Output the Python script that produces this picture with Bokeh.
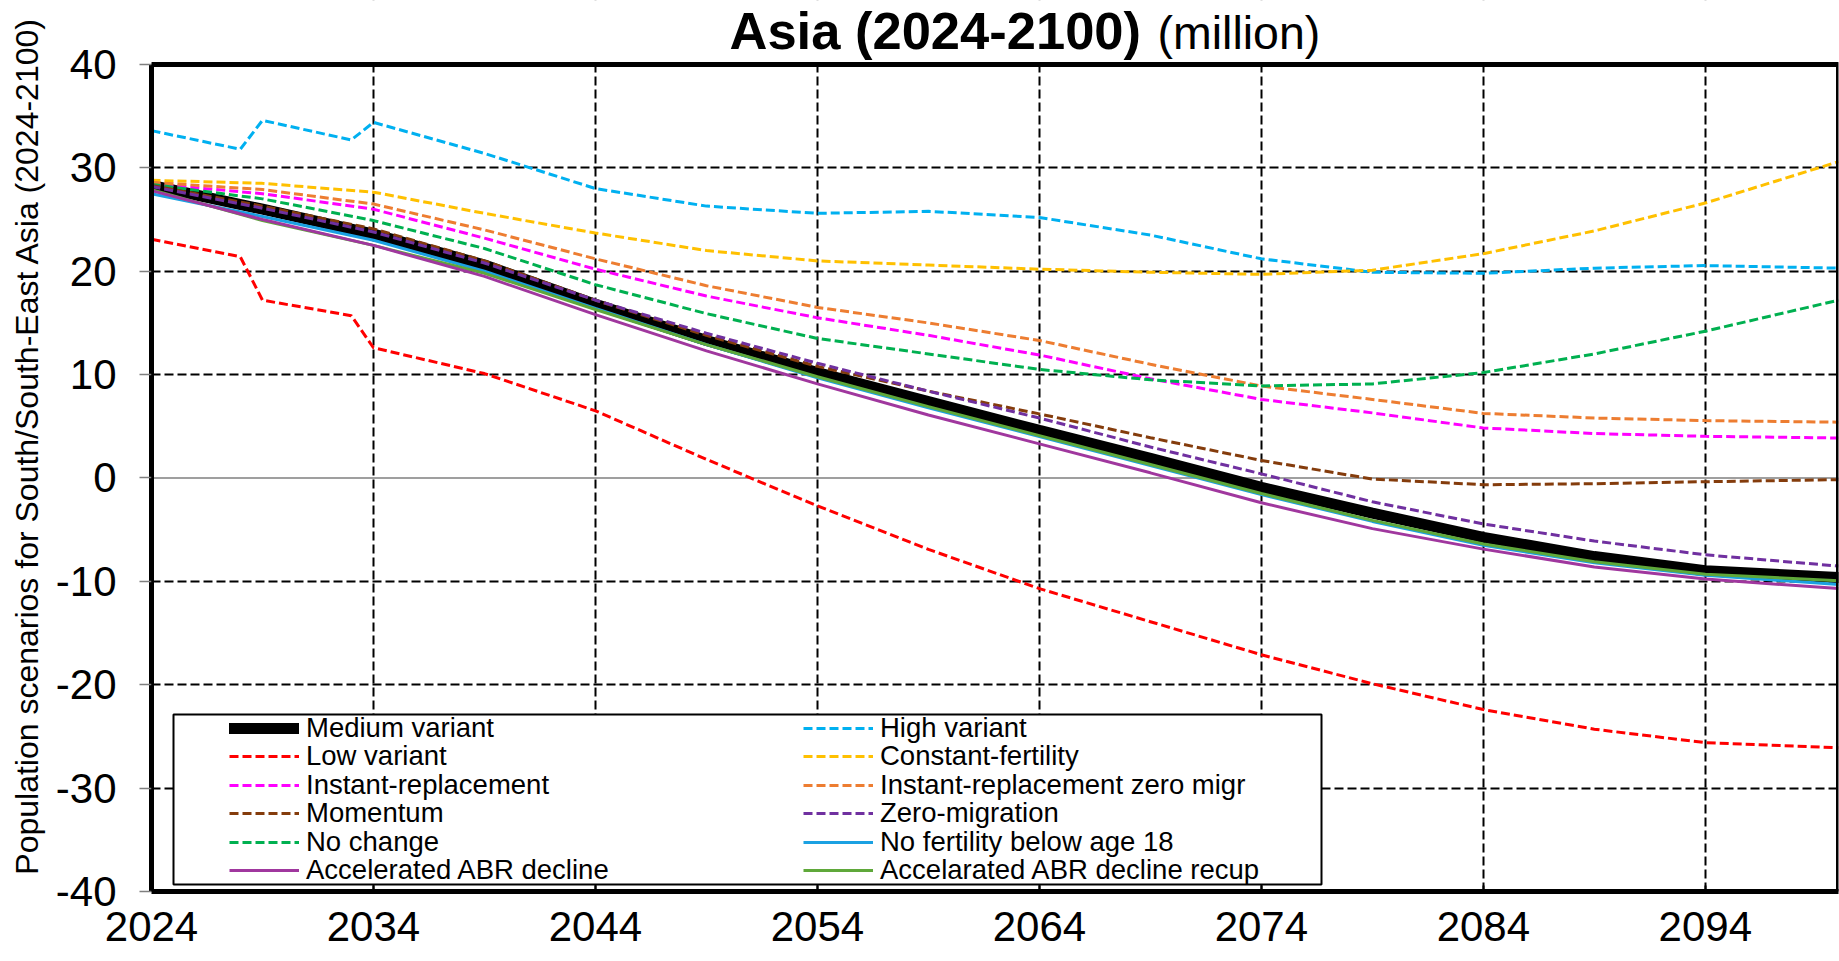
from bokeh.plotting import figure
from bokeh.models import (Range1d, FixedTicker, Legend, LegendItem,
                          Label, BoxAnnotation, Span)
from bokeh.embed import file_html
from bokeh.resources import INLINE

FONT = "Liberation Sans"

# ---------------- data (million) ----------------
years = [2024, 2029, 2034, 2039, 2044, 2049, 2054, 2059, 2064, 2069, 2074,
         2079, 2084, 2089, 2094, 2100]
years_hl = [2024, 2028, 2029, 2033, 2034, 2039, 2044, 2049, 2054, 2059, 2064,
            2069, 2074, 2079, 2084, 2089, 2094, 2100]

medium = [28.3, 26.0, 23.6, 20.6, 16.8, 13.3, 10.2, 7.4, 4.6, 1.9, -0.9,
          -3.4, -5.75, -7.6, -8.97, -9.62]
high = [33.6, 31.8, 34.6, 32.7, 34.4, 31.4, 28.0, 26.3, 25.6, 25.8, 25.2,
        23.5, 21.2, 19.9, 19.8, 20.3, 20.55, 20.3]
low = [23.1, 21.4, 17.2, 15.7, 12.6, 10.1, 6.5, 1.8, -2.7, -6.9, -10.7,
       -13.9, -17.1, -19.9, -22.4, -24.3, -25.6, -26.1]
const_fert = [28.8, 28.5, 27.65, 25.6, 23.7, 22.0, 21.0, 20.6, 20.2, 19.9, 19.7,
              20.1, 21.7, 23.9, 26.6, 30.6]
inst_repl = [28.46, 27.5, 26.0, 23.2, 20.2, 17.6, 15.5, 13.8, 11.9, 9.6, 7.6,
             6.3, 4.84, 4.3, 4.03, 3.87]
inst_repl_zero = [28.6, 27.9, 26.5, 24.0, 21.2, 18.6, 16.5, 15.0, 13.3, 11.0, 8.9,
                  7.6, 6.25, 5.8, 5.55, 5.4]
momentum = [28.3, 26.3, 24.1, 21.0, 17.2, 13.8, 10.8, 8.4, 6.2, 3.9, 1.7,
            -0.1, -0.65, -0.55, -0.36, -0.16]
zero_mig = [28.2, 26.1, 23.8, 20.8, 17.2, 14.0, 11.1, 8.4, 5.8, 3.0, 0.4,
            -2.3, -4.45, -6.1, -7.43, -8.52]
no_change = [28.4, 27.0, 24.9, 22.2, 18.7, 15.9, 13.5, 12.0, 10.5, 9.5, 8.9,
             9.1, 10.2, 12.0, 14.2, 17.2]
no_fert_18 = [27.5, 25.3, 23.0, 20.0, 16.4, 12.9, 9.7, 6.8, 4.0, 1.2, -1.6,
              -4.2, -6.5, -8.2, -9.4, -10.3]
abr_decline = [27.8, 25.0, 22.5, 19.5, 15.8, 12.3, 9.1, 6.1, 3.3, 0.5, -2.4,
               -4.9, -6.88, -8.6, -9.78, -10.7]
abr_recup = [27.9, 24.9, 22.5, 19.8, 16.3, 12.9, 9.8, 6.9, 4.1, 1.3, -1.5,
             -4.1, -6.39, -8.1, -9.3, -9.94]

x_ticks = [2024, 2034, 2044, 2054, 2064, 2074, 2084, 2094]
y_ticks = [-40, -30, -20, -10, 0, 10, 20, 30, 40]
y_grid_ticks = [-30, -20, -10, 10, 20, 30]
X_MIN, X_MAX = 2024, 2100
Y_MIN, Y_MAX = -40, 40
Y_TOP = 46.19   # room above the plot box for the title

# ---------------- figure ----------------
p = figure(width=1839, height=960, title=None,
           x_range=Range1d(X_MIN, X_MAX), y_range=Range1d(Y_MIN, Y_TOP),
           output_backend="svg", toolbar_location=None,
           min_border_left=151, min_border_right=1,
           min_border_top=0, min_border_bottom=69)
p.outline_line_color = None
p.background_fill_color = "white"
p.border_fill_color = "white"

xa = p.xaxis[0]
xa.ticker = FixedTicker(ticks=x_ticks)
xa.axis_line_width = 5
xa.axis_line_color = "black"
xa.major_tick_in = 6
xa.major_tick_out = 0
xa.major_tick_line_color = "black"
xa.major_tick_line_width = 2
xa.minor_tick_line_color = None
xa.major_label_text_font = FONT
xa.major_label_text_font_size = "42px"
xa.major_label_text_color = "black"
xa.major_label_standoff = 20

ya = p.yaxis[0]
ya.ticker = FixedTicker(ticks=y_ticks)
ya.bounds = (Y_MIN, Y_MAX)
ya.major_label_overrides = {t: str(t) for t in y_ticks}
ya.axis_line_width = 5
ya.axis_line_color = "black"
ya.major_tick_in = 0
ya.major_tick_out = 12
ya.major_tick_line_color = "#7f7f7f"
ya.major_tick_line_width = 1.5
ya.minor_tick_line_color = None
ya.major_label_text_font = FONT
ya.major_label_text_font_size = "42px"
ya.major_label_text_color = "black"
ya.major_label_standoff = 23
ya.axis_label = "Population scenarios for South/South-East Asia (2024-2100)"
ya.axis_label_text_font = FONT
ya.axis_label_text_font_size = "32px"
ya.axis_label_text_font_style = "normal"
ya.axis_label_text_color = "black"
ya.axis_label_standoff = 8

p.xgrid.ticker = FixedTicker(ticks=x_ticks)
p.ygrid.ticker = FixedTicker(ticks=y_grid_ticks)
for g in (p.xgrid[0], p.ygrid[0]):
    g.grid_line_color = "black"
    g.grid_line_width = 2
    g.grid_line_dash = "9 4"
    g.grid_line_alpha = 1

# white band above the plot box (hides grid lines in the title area)
p.add_layout(BoxAnnotation(left=X_MIN - 10, right=X_MAX + 10, bottom=Y_MAX, top=Y_TOP + 10,
                           fill_color="white", fill_alpha=1, line_alpha=0,
                           level="underlay"))
p.add_layout(Span(location=0, dimension="width", line_color="#404040",
                  line_width=1.2, level="underlay"))

# ---------------- series ----------------
DASH = "9 4"
r_med = p.line(years, medium, line_color="black", line_width=11, line_cap="round")
r_high = p.line(years_hl, high, line_color="#00B0F0", line_width=3, line_dash=DASH)
r_low = p.line(years_hl, low, line_color="#FF0000", line_width=3, line_dash=DASH)
r_cf = p.line(years, const_fert, line_color="#FFC000", line_width=3, line_dash=DASH)
r_ir = p.line(years, inst_repl, line_color="#FF00FF", line_width=3, line_dash=DASH)
r_irz = p.line(years, inst_repl_zero, line_color="#ED7D31", line_width=3, line_dash=DASH)
r_nf = p.line(years, no_fert_18, line_color="#1BA1E2", line_width=3)
r_rec = p.line(years, abr_recup, line_color="#5FA83A", line_width=3)
r_abr = p.line(years, abr_decline, line_color="#A0379E", line_width=3)
r_nc = p.line(years, no_change, line_color="#00B050", line_width=3, line_dash=DASH)
r_mom = p.line(years, momentum, line_color="#843C0C", line_width=3, line_dash=DASH)
r_zm = p.line(years, zero_mig, line_color="#7030A0", line_width=3, line_dash=DASH)

# plot box border (thick top/left/bottom)
p.add_layout(BoxAnnotation(left=X_MIN, right=X_MAX, bottom=Y_MIN, top=Y_MAX,
                           fill_alpha=0, line_color="black", line_alpha=1,
                           line_width=5))

# ---------------- legend ----------------
p.add_layout(BoxAnnotation(left=22, right=1170, bottom=7, top=177,
                           left_units="screen", right_units="screen",
                           bottom_units="screen", top_units="screen",
                           fill_color="white", fill_alpha=1,
                           line_color="black", line_alpha=1, line_width=2))

col1 = [("Medium variant", r_med), ("Low variant", r_low),
        ("Instant-replacement", r_ir), ("Momentum", r_mom),
        ("No change", r_nc), ("Accelerated ABR decline", r_abr)]
col2 = [("High variant", r_high), ("Constant-fertility", r_cf),
        ("Instant-replacement zero migr", r_irz), ("Zero-migration", r_zm),
        ("No fertility below age 18", r_nf), ("Accelarated ABR decline recup", r_rec)]

ROW_PITCH = 28.35
FIRST_ROW_BOTTOM = 146.9
COL_X = [78, 652]

for col_x, entries in zip(COL_X, (col1, col2)):
    for i, (name, rend) in enumerate(entries):
        p.add_layout(Legend(items=[LegendItem(label=name, renderers=[rend])],
                            location=(col_x, FIRST_ROW_BOTTOM - i * ROW_PITCH),
                            orientation="vertical",
                            padding=0, spacing=0, margin=0,
                            glyph_width=70, glyph_height=26, label_height=26,
                            label_standoff=7,
                            label_text_font=FONT, label_text_font_size="27.5px",
                            label_text_color="black",
                            border_line_alpha=0, background_fill_alpha=0))

# ---------------- title ----------------
p.add_layout(Label(x=578, y=861, x_units="screen", y_units="screen",
                   text="Asia (2024-2100)", text_font=FONT,
                   text_font_size="52.5px", text_font_style="bold",
                   text_align="left", text_baseline="alphabetic",
                   text_color="black"))
p.add_layout(Label(x=1006, y=859, x_units="screen", y_units="screen",
                   text="(million)", text_font=FONT,
                   text_font_size="46.5px", text_align="left",
                   text_baseline="alphabetic", text_color="black"))

open("out.html", "w").write(file_html(p, INLINE))
